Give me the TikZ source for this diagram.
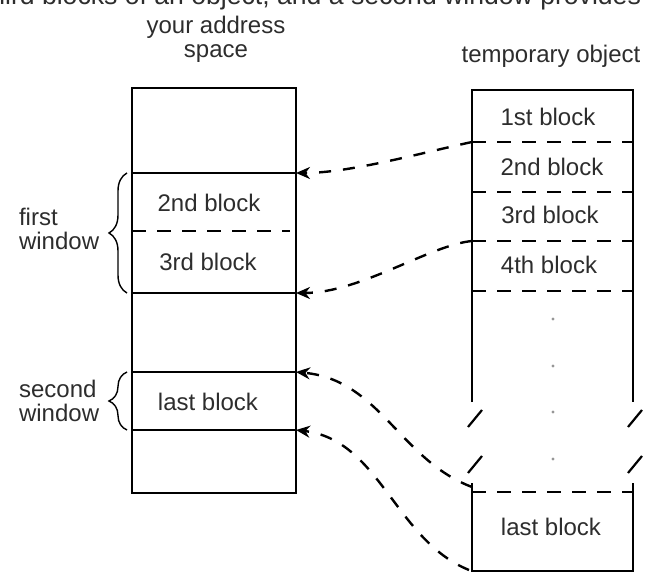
\documentclass[tikz,border=0pt]{standalone}
\usepackage{fontspec}
\setmainfont{Liberation Sans}
\usepackage{xcolor}
\usetikzlibrary{arrows.meta,decorations.pathreplacing}
\definecolor{inkgray}{RGB}{45,45,45}
\definecolor{dotgray}{RGB}{150,150,150}

\begin{document}
\begin{tikzpicture}[x=0.5pt, y=-0.5pt, font=\fontsize{12}{12.2}\selectfont, text=inkgray,
  wall/.style={line width=1.45pt},
  sep/.style={line width=1.45pt, dash pattern=on 7pt off 5.5pt},
  link/.style={line width=1.2pt, dash pattern=on 6pt off 6pt, -{Stealth[length=7pt,width=6pt]}},
  brc/.style={decorate, decoration={brace, amplitude=9pt}, line width=0.7pt}]
  \useasboundingbox (0,0) rectangle (648,572);
  % cut-off line of running text at the top
  \begin{scope}
    \clip (0,0) rectangle (648,572);
    \node[anchor=base east, font=\fontsize{13.3}{16}\selectfont] (runtext) at (648,5) {third blocks of an object, and a second window provides};
  \end{scope}
  % headings
  \node[align=center] (addr) at (216,39) {your address\\space};
  \node (tmpobj) at (551,56) {temporary object};
  % your address space
  \draw[wall] (132,88) rectangle (296,493);
  \coordinate (w1top) at (296,173);
  \coordinate (w1bot) at (296,293);
  \coordinate (w2top) at (296,372);
  \coordinate (w2bot) at (296,430);
  \foreach \c in {w1top,w1bot,w2top,w2bot}
    \draw[wall] (\c) -- ++(-164,0);
  \draw[sep] (132,231) -- (290,231);
  \node (yb2) at (209,203) {2nd block};
  \node (yb3) at (208,262) {3rd block};
  \node (ylb) at (208,402) {last block};
  % windows
  \draw[brc] (127,293) -- (127,173);
  \draw[brc] (127,430) -- (127,372);
  \node[anchor=west, align=left] (fwin) at (12,229) {first\\window};
  \node[anchor=west, align=left] (swin) at (12,401) {second\\window};
  % temporary object, upper part
  \draw[wall] (472,402) -- (472,90) -- (633,90) -- (633,402);
  \foreach \y in {142,192,241,291}
    \draw[sep] (472,\y) -- (633,\y);
  \coordinate (b12) at (472,142);
  \coordinate (b34) at (472,241);
  \node (tb1) at (548,117) {1st block};
  \node (tb2) at (552,167) {2nd block};
  \node (tb3) at (550,215) {3rd block};
  \node (tb4) at (549,265) {4th block};
  % break marks and dots
  \foreach \x in {468,628}
    \foreach \y in {427,473}
      \draw[line width=1.1pt] (\x,\y) -- ++(14,-17);
  \foreach \y in {319,366,412,459}
    \fill[dotgray] (553,\y) circle (0.8pt);
  % temporary object, last block
  \draw[wall] (472,483) -- (472,571) -- (633,571) -- (633,483);
  \draw[sep] (472,492) -- (633,492);
  \coordinate (lbtop) at (472,487);
  \coordinate (lbbot) at (469,570);
  \node (tlb) at (551,527) {last block};
  % mapping of blocks into the windows
  \draw[link] (b12) .. controls (425,152) and (350,173) .. (w1top);
  \draw[link] (b34) .. controls (430,245) and (360,293) .. (w1bot);
  \draw[link] (lbtop) .. controls (400,460) and (380,380) .. (w2top);
  \draw[link] (lbbot) .. controls (395,540) and (380,440) .. (w2bot);
\end{tikzpicture}
\end{document}
